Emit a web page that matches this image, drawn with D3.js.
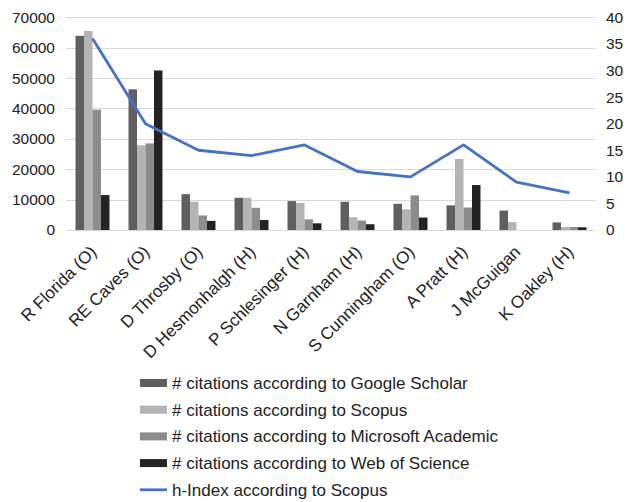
<!DOCTYPE html>
<html><head><meta charset="utf-8">
<script src="https://cdn.jsdelivr.net/npm/d3@7"></script>
<style>body{margin:0;background:#fff}svg{display:block}text{font-family:"Liberation Sans",Arial,sans-serif;fill:#222}</style>
</head><body><svg id="c" width="627" height="502"></svg>
<script>
const categories = ["R Florida (O)","RE Caves (O)","D Throsby (O)","D Hesmonhalgh (H)","P Schlesinger (H)","N Garnham (H)","S Cunningham (O)","A Pratt (H)","J McGuigan","K Oakley (H)"];
const googleScholar = [63900,46300,11800,10600,9500,9300,8600,8100,6400,2500];
const scopus = [65500,27900,9300,10600,8900,4200,6800,23400,2600,1000];
const microsoftAcademic = [39600,28500,4800,7300,3500,3100,11400,7400,0,1000];
const webOfScience = [11500,52500,3000,3300,2200,1900,4100,14800,0,900];
const hIndex = [36,20,15,14,16,11,10,16,9,7];
const leftTicks = [0,10000,20000,30000,40000,50000,60000,70000];
const rightTicks = [0,5,10,15,20,25,30,35,40];
const seriesNames = ["# citations according to Google Scholar","# citations according to Scopus","# citations according to Microsoft Academic","# citations according to Web of Science"];
const lineName = "h-Index according to Scopus";
const colors = ["#5f5f5f","#b4b4b4","#8c8c8c","#232323"];
const lineColor = "#4472C4";

const svg = d3.select("#c");
const L=66, R=596, T=17.3, B=230;
const x = d3.scaleBand().domain(categories).range([L,R]).paddingInner(0).paddingOuter(0);
const yL = d3.scaleLinear().domain([0,70000]).range([B,T]);
const yR = d3.scaleLinear().domain([0,40]).range([B,T]);
const series = [googleScholar,scopus,microsoftAcademic,webOfScience];
const inner = d3.scaleBand().domain(d3.range(4)).range([0,x.bandwidth()]).paddingInner(0).paddingOuter(1.12);

// gridlines
svg.append("g").selectAll("line").data(leftTicks).join("line")
  .attr("x1",L).attr("x2",R).attr("y1",d=>Math.round(yL(d))+0.5).attr("y2",d=>Math.round(yL(d))+0.5)
  .attr("stroke","#d9d9d9").attr("stroke-width",1);

// axes labels
const la = svg.append("g").attr("transform",`translate(${L},0)`).call(d3.axisLeft(yL).tickValues(leftTicks).tickSize(0).tickPadding(11).tickFormat(d3.format("d")));
la.select(".domain").remove();
la.selectAll("text").style("font-size","15.5px").style("font-family","Liberation Sans, Arial, sans-serif").attr("fill","#222");
const ra = svg.append("g").attr("transform",`translate(${R},0)`).call(d3.axisRight(yR).tickValues(rightTicks).tickSize(0).tickPadding(10));
ra.select(".domain").remove();
ra.selectAll("text").style("font-size","15.5px").style("font-family","Liberation Sans, Arial, sans-serif").attr("fill","#222");

// bars
series.forEach((s,i)=>{
  svg.append("g").selectAll("rect").data(s).join("rect")
    .attr("x",(d,j)=>x(categories[j])+inner(i))
    .attr("width",inner.bandwidth())
    .attr("y",d=>yL(d)).attr("height",d=>B-yL(d))
    .attr("fill",colors[i]);
});

// line
svg.append("path").datum(hIndex)
  .attr("d",d3.line().x((d,j)=>x(categories[j])+x.bandwidth()/2).y(d=>yR(d)))
  .attr("fill","none").attr("stroke",lineColor).attr("stroke-width",2.8).attr("stroke-linejoin","round");

// x labels
svg.append("g").selectAll("text").data(categories).join("text")
  .attr("transform",d=>`translate(${x(d)+x.bandwidth()/2+5},${B+23}) rotate(-45)`)
  .attr("text-anchor","end")
  .style("font-size","17px").text(d=>d);

// legend
const lg = svg.append("g");
seriesNames.forEach((n,i)=>{
  const yy = 383 + i*26.7;
  lg.append("rect").attr("x",140).attr("y",yy-4).attr("width",27).attr("height",8).attr("fill",colors[i]);
  lg.append("text").attr("x",172).attr("y",yy).attr("dy","0.35em").style("font-size","17px").text(n);
});
const ly = 383 + 4*26.7;
lg.append("line").attr("x1",140).attr("x2",167).attr("y1",ly).attr("y2",ly).attr("stroke",lineColor).attr("stroke-width",2.8);
lg.append("text").attr("x",172).attr("y",ly).attr("dy","0.35em").style("font-size","17px").text(lineName);
</script></body></html>
